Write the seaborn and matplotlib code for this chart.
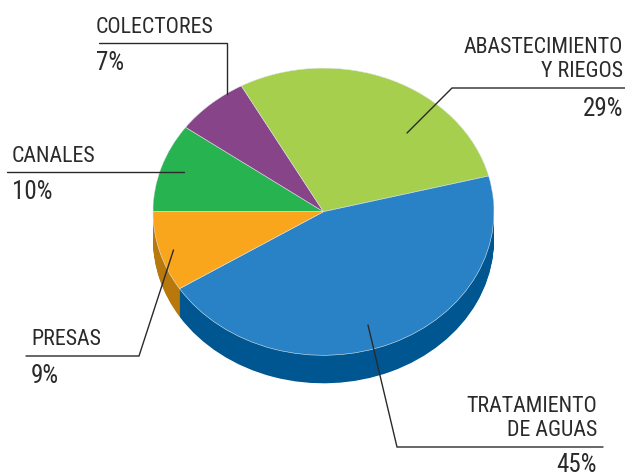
import numpy as np
import seaborn as sns
import matplotlib
matplotlib.use("Agg")
import matplotlib.pyplot as plt

# Values, clockwise from the left edge
categories = ["CANALES", "COLECTORES", "ABASTECIMIENTO", "TRATAMIENTO", "PRESAS"]
shares = [10, 7, 29, 45, 9]
top_colors = ["#27b34f", "#874488", "#a7cf4e", "#2981c6", "#f9a61d"]
side_colors = ["#1a8038", "#5f2f60", "#76923a", "#005690", "#b8780c"]

W, H = 625, 475
CX, CY, RX, RY = 323.5, 211.7, 170.5, 143.6
DEPTH = 28

sns.set_theme(style="white")
plt.rcParams["font.family"] = ["Roboto Condensed", "Archivo Narrow", "Liberation Sans"]

fig = plt.figure(figsize=(W / 100, H / 100), dpi=100)

# pie axes, one data unit is one radius
ax = fig.add_axes([0, 0, 1, 1])
for offset in np.arange(DEPTH, 0, -1):
    ax.pie(shares, colors=side_colors, startangle=180, counterclock=False,
           center=(0, -offset / RY), radius=1,
           wedgeprops={"linewidth": 0})
ax.pie(shares, colors=top_colors, startangle=180, counterclock=False,
       wedgeprops={"linewidth": 0.4, "edgecolor": "#dfe9ec"})
ax.set_aspect("auto")
ax.set_xlim(-CX / RX, (W - CX) / RX)
ax.set_ylim((CY - H) / RY, CY / RY)

# overlay in pixel coordinates for the leader lines and labels
over = fig.add_axes([0, 0, 1, 1])
over.set_xlim(0, W)
over.set_ylim(H, 0)
over.axis("off")
over.patch.set_alpha(0)

leaders = [
    ([99, 227, 227], [43, 43, 94]),
    ([7, 184], [172, 172]),
    ([625, 452, 407], [88, 88, 133]),
    ([26, 139, 173.5], [356, 356, 250]),
    ([603, 397, 368], [447, 447, 325]),
]
for xs, ys in leaders:
    over.plot(xs, ys, color="#2b2a2b", lw=1.0, solid_joinstyle="miter")

names = [
    (96, 33, "COLECTORES", "left"),
    (12, 162, "CANALES", "left"),
    (623, 53, "ABASTECIMIENTO", "right"),
    (623, 77, "Y RIEGOS", "right"),
    (31, 345, "PRESAS", "left"),
    (597, 412, "TRATAMIENTO", "right"),
    (597, 436, "DE AGUAS", "right"),
]
percents = [
    (96, 70.5, "7%", "left"),
    (12, 199, "10%", "left"),
    (623, 115.5, "29%", "right"),
    (31, 383, "9%", "left"),
    (597, 472.5, "45%", "right"),
]
for x, y, txt, ha in names:
    over.text(x, y, txt, ha=ha, va="baseline", fontsize=15.8, color="#2b2a2b")
for x, y, txt, ha in percents:
    over.text(x, y, txt, ha=ha, va="baseline", fontsize=18, color="#2b2a2b")

fig.savefig("out.png", dpi=100)
